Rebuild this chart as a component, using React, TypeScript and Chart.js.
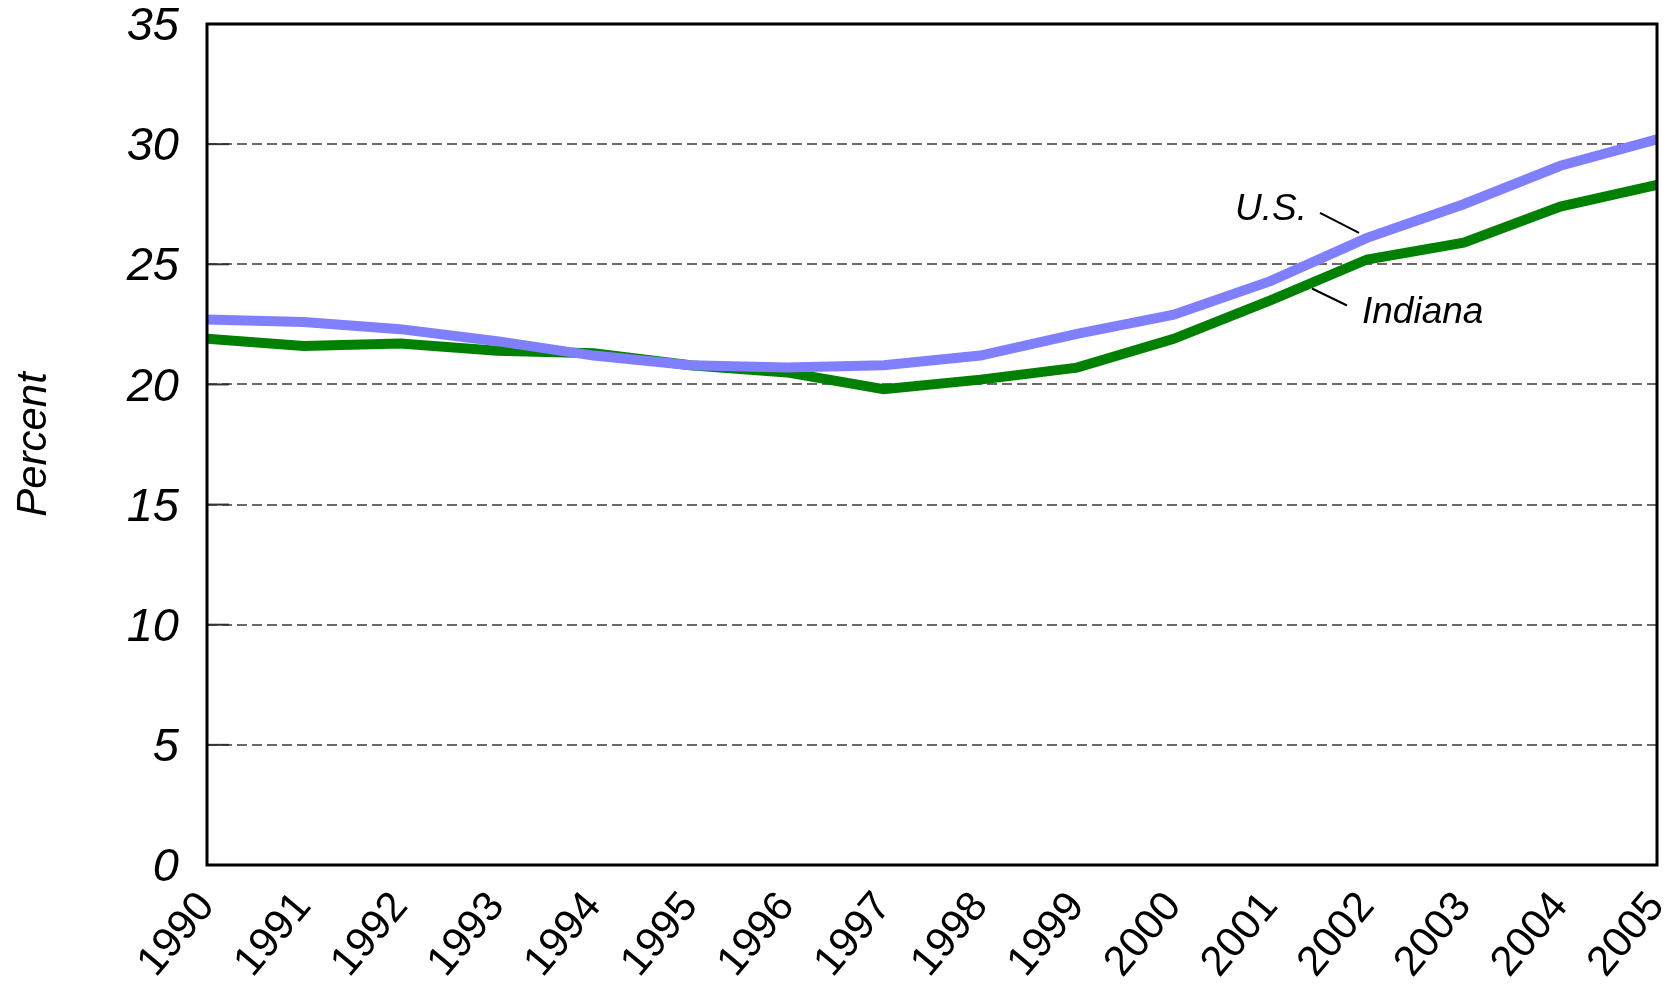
import React, { useEffect, useRef } from "react";
import { Chart, registerables } from "chart.js";

Chart.register(...registerables);

const years = ["1990","1991","1992","1993","1994","1995","1996","1997","1998","1999","2000","2001","2002","2003","2004","2005"];
const usValues = [22.7, 22.6, 22.3, 21.8, 21.2, 20.8, 20.7, 20.8, 21.2, 22.1, 22.9, 24.3, 26.1, 27.5, 29.1, 30.2];
const indianaValues = [21.9, 21.6, 21.7, 21.4, 21.3, 20.8, 20.5, 19.8, 20.2, 20.7, 21.9, 23.5, 25.2, 25.9, 27.4, 28.3];
const yTicks = [0, 5, 10, 15, 20, 25, 30, 35];
const seriesNames = ["U.S.", "Indiana"];
const yTitle = "Percent";

const FONT = "'Liberation Sans', Arial, sans-serif";

const framePlugin = {
  id: "frame",
  afterDatasetsDraw(chart: any) {
    const { ctx, chartArea, scales } = chart;
    const y = scales.y;
    const x = scales.x;
    ctx.save();
    ctx.strokeStyle = "#333";
    ctx.lineWidth = 2;
    yTicks.forEach((v) => {
      const py = y.getPixelForValue(v);
      ctx.beginPath();
      ctx.moveTo(chartArea.left, py);
      ctx.lineTo(chartArea.left + 22, py);
      ctx.stroke();
    });
    ctx.strokeStyle = "#000";
    ctx.lineWidth = 3;
    ctx.strokeRect(chartArea.left, chartArea.top, chartArea.right - chartArea.left, chartArea.bottom - chartArea.top);

    const idx = 12;
    const px = x.getPixelForValue(idx);
    const pyUS = y.getPixelForValue(usValues[idx]);
    const pyIN = y.getPixelForValue(indianaValues[idx]);
    ctx.lineWidth = 2;
    ctx.beginPath();
    ctx.moveTo(px - 47, pyUS - 25);
    ctx.lineTo(px - 8, pyUS - 5);
    ctx.stroke();
    ctx.beginPath();
    ctx.moveTo(px - 55, pyIN + 29);
    ctx.lineTo(px - 20, pyIN + 46);
    ctx.stroke();
    ctx.fillStyle = "#000";
    ctx.font = `italic 37px ${FONT}`;
    ctx.textBaseline = "middle";
    ctx.textAlign = "right";
    ctx.fillText(seriesNames[0], px - 60, pyUS - 28);
    ctx.textAlign = "left";
    ctx.fillText(seriesNames[1], px - 5, pyIN + 53);
    ctx.restore();
  },
};

export default function App() {
  const ref = useRef<HTMLCanvasElement | null>(null);
  useEffect(() => {
    document.body.style.margin = "0";
    const canvas = ref.current!;
    const chart = new Chart(canvas, {
      type: "line",
      data: {
        labels: years,
        datasets: [
          {
            label: seriesNames[0],
            data: usValues,
            borderColor: "#8080FF",
            borderWidth: 10,
            pointRadius: 0,
            tension: 0,
            clip: 0,
          } as any,
          {
            label: seriesNames[1],
            data: indianaValues,
            borderColor: "#008000",
            borderWidth: 10,
            pointRadius: 0,
            tension: 0,
            clip: 0,
          } as any,
        ],
      },
      options: {
        animation: false,
        responsive: false,
        maintainAspectRatio: false,
        devicePixelRatio: 1,
        layout: { padding: { top: 24, right: 19, left: 0, bottom: 0 } },
        plugins: { legend: { display: false }, tooltip: { enabled: false } },
        scales: {
          x: {
            type: "category",
            offset: false,
            grid: { display: false, drawTicks: false },
            border: { display: false },
            ticks: {
              color: "#000",
              font: { family: FONT, size: 42 },
              maxRotation: 50,
              minRotation: 50,
              padding: 18,
              autoSkip: false,
            },
            afterFit: (s: any) => {
              s.height = 119;
              s.paddingLeft = 0;
              s.paddingRight = 0;
            },
          },
          y: {
            min: 0,
            max: 35,
            afterBuildTicks: (s: any) => {
              s.ticks = yTicks.map((v) => ({ value: v }));
            },
            grid: { color: "#6a6a6a", lineWidth: 2, drawTicks: false },
            border: { display: false, dash: [10, 5] },
            ticks: {
              color: "#000",
              font: { family: FONT, size: 47, style: "italic" },
              padding: 28,
              labelOffset: 3,
            },
            title: {
              display: true,
              text: yTitle,
              color: "#000",
              font: { family: FONT, size: 42, style: "italic" },
              padding: { top: 9, bottom: 0 },
            },
            afterFit: (s: any) => {
              s.width = 207;
              s.paddingTop = 0;
              s.paddingBottom = 0;
            },
          },
        },
      },
      plugins: [framePlugin],
    });
    return () => chart.destroy();
  }, []);
  return (
    <div style={{ position: "absolute", left: 0, top: 0, width: 1676, height: 984, background: "#fff" }}>
      <canvas ref={ref} width={1676} height={984} style={{ width: 1676, height: 984 }} />
    </div>
  );
}
